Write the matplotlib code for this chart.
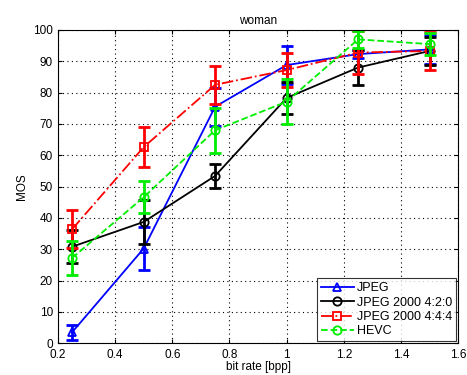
import matplotlib
matplotlib.use("Agg")
import matplotlib.pyplot as plt

plt.rcParams['font.family'] = ['Liberation Sans', 'DejaVu Sans']

bitrate = [0.25, 0.5, 0.75, 1.0, 1.25, 1.5]

jpeg = [3.5, 30.2, 75.5, 88.8, 92.3, 93.8]
jpeg_err = [2.4, 7.0, 6.0, 6.2, 1.2, 4.5]

j2k420 = [30.8, 38.7, 53.4, 78.3, 88.0, 93.3]
j2k420_err = [5.3, 7.1, 3.9, 5.0, 5.6, 4.5]

j2k444 = [36.4, 62.6, 82.5, 87.2, 92.8, 93.3]
j2k444_err = [6.1, 6.3, 6.1, 5.5, 7.0, 6.0]

hevc = [27.2, 46.6, 68.0, 77.1, 97.0, 95.5]
hevc_err = [5.4, 5.2, 7.2, 7.2, 2.8, 3.6]

labels = ['JPEG', 'JPEG 2000 4:2:0', 'JPEG 2000 4:4:4', 'HEVC']
xticks = [0.2, 0.4, 0.6, 0.8, 1.0, 1.2, 1.4, 1.6]
xtick_labels = ['0.2', '0.4', '0.6', '0.8', '1', '1.2', '1.4', '1.6']
yticks = [0, 10, 20, 30, 40, 50, 60, 70, 80, 90, 100]

fig = plt.figure(figsize=(4.67, 3.75), dpi=100)
ax = fig.add_axes([0.124, 0.085, 0.857, 0.835])

series = [
    (jpeg, jpeg_err, '#0000ff', '-', '^'),
    (j2k420, j2k420_err, '#000000', '-', 'o'),
    (j2k444, j2k444_err, '#ff0000', '-.', 's'),
    (hevc, hevc_err, '#00ee00', '--', 'o'),
]

for (vals, errs, col, ls, mk), lab in zip(series, labels):
    ax.errorbar(bitrate, vals, yerr=errs, color=col, ecolor=col,
                elinewidth=2.0, capsize=4, capthick=2.0, linestyle='none')
    ax.plot(bitrate, vals, color=col, linestyle=ls, linewidth=1.3,
            marker=mk, markersize=6, markerfacecolor='none',
            markeredgecolor=col, markeredgewidth=1.3, label=lab)

ax.set_xlim(0.2, 1.6)
ax.set_ylim(0, 100)
ax.set_xticks(xticks)
ax.set_xticklabels(xtick_labels)
ax.set_yticks(yticks)
ax.tick_params(direction='in', labelsize=8.5, length=3, top=True, right=True)
ax.tick_params(axis='x', pad=4.5)
ax.grid(True, linestyle=(0, (1, 3)), color='black', linewidth=0.8)
for s in ax.spines.values():
    s.set_linewidth(0.8)

ax.set_title('woman', fontsize=8.5, pad=4)
ax.set_xlabel('bit rate [bpp]', fontsize=8.5, labelpad=0)
ax.set_ylabel('MOS', fontsize=8.5, labelpad=4)

leg = ax.legend(loc='lower right', fontsize=9, frameon=True, fancybox=False,
                edgecolor='black', borderaxespad=0.15, handlelength=2.6,
                labelspacing=0.2, borderpad=0.3, handletextpad=0.3)
leg.get_frame().set_linewidth(0.8)

fig.savefig('out.png', dpi=100)
